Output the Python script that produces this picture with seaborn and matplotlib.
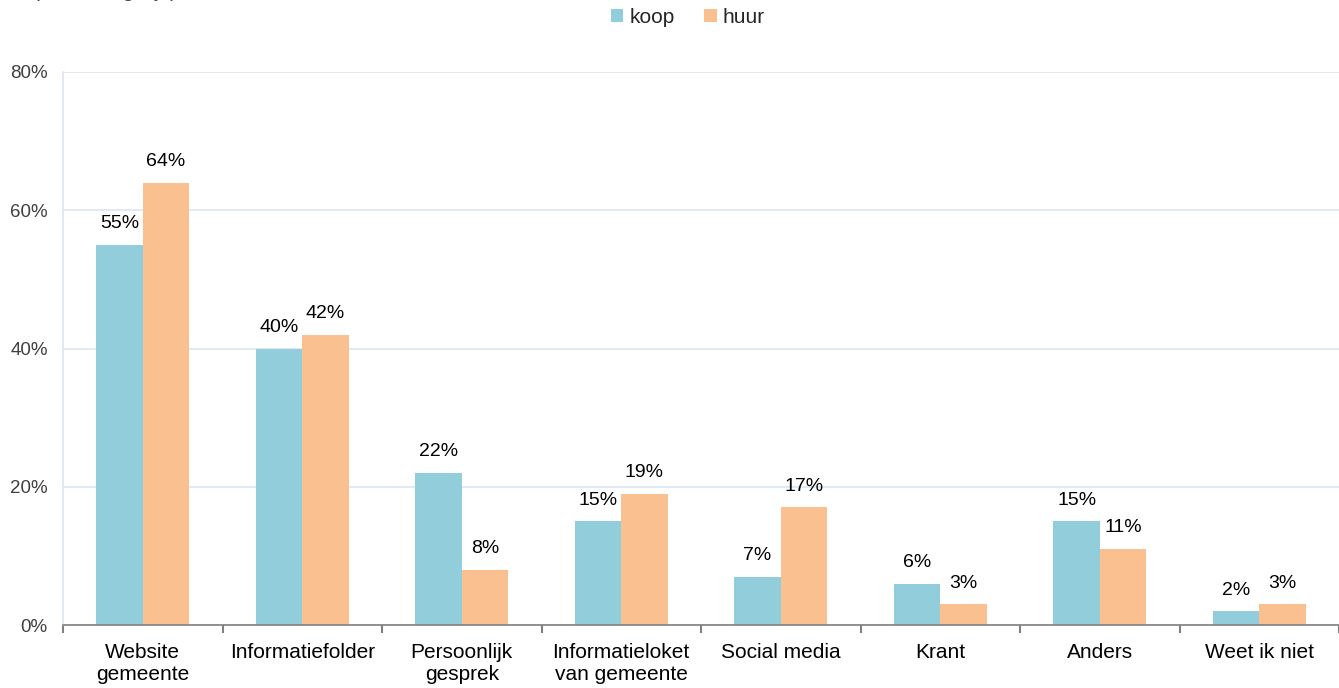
import matplotlib
matplotlib.use("Agg")
import matplotlib.pyplot as plt
import seaborn as sns
import pandas as pd
import numpy as np
from matplotlib.ticker import FixedLocator

categories = ["Website\ngemeente", "Informatiefolder", "Persoonlijk\ngesprek",
              "Informatieloket\nvan gemeente", "Social media", "Krant", "Anders", "Weet ik niet"]
koop = [55, 40, 22, 15, 7, 6, 15, 2]
huur = [64, 42, 8, 19, 17, 3, 11, 3]
series_names = ["koop", "huur"]
colors = ["#92CDDC", "#FAC090"]
y_ticks = [0, 20, 40, 60, 80]

df = pd.DataFrame({
    "cat": categories * 2,
    "val": koop + huur,
    "serie": ["koop"] * len(koop) + ["huur"] * len(huur),
})

sns.set_theme(style="white")
plt.rcParams["font.family"] = ["Liberation Sans", "DejaVu Sans"]

fig = plt.figure(figsize=(13.39, 6.88), dpi=100)
ax = fig.add_axes([63 / 1339, 1 - 625 / 688, 1 - 63 / 1339, (625 - 72) / 688])

sns.barplot(data=df, x="cat", y="val", hue="serie", hue_order=series_names,
            palette=colors, width=0.58, ax=ax, saturation=1, legend=True, linewidth=0)

ax.set_ylim(0, 80)
ax.set_xlim(-0.5, len(categories) - 0.5)
ax.set_yticks(y_ticks)
ax.set_yticklabels([f"{t}%" for t in y_ticks], fontsize=13.5, color="#404040")
ax.yaxis.grid(True, color="#DCE6F2", linewidth=1.2)
ax.set_axisbelow(True)
ax.set_xlabel("")
ax.set_ylabel("")
ax.tick_params(axis="y", length=0, pad=11)
ax.tick_params(axis="x", which="major", length=0, pad=13, labelsize=15, labelcolor="#000000")

for s in ["top", "right"]:
    ax.spines[s].set_visible(False)
ax.spines["left"].set_color("#DCE6F2")
ax.spines["left"].set_linewidth(1.2)
ax.spines["bottom"].set_color("#808080")
ax.spines["bottom"].set_linewidth(1.2)

# category boundary tick marks
ax.xaxis.set_minor_locator(FixedLocator(np.arange(-0.5, len(categories), 1.0)))
ax.tick_params(axis="x", which="minor", bottom=True, length=6, width=1.5,
               color="#808080", direction="out")

for cont in ax.containers:
    ax.bar_label(cont, labels=[f"{v:.0f}%" for v in cont.datavalues],
                 padding=9, fontsize=14, color="#000000")

leg = ax.legend(loc="upper center", bbox_to_anchor=(688 / 1339, 1 - 4 / 688), bbox_transform=fig.transFigure,
                ncol=2, frameon=False, fontsize=15, handlelength=0.6, handleheight=0.6,
                handletextpad=0.3, columnspacing=1.4, borderaxespad=0.0, borderpad=0.2)

fig.text(33 / 1339, 1.012, "(meer mogelijk)", fontsize=15, color="#404040", va="center", ha="left")

fig.savefig("out.png", dpi=100)
